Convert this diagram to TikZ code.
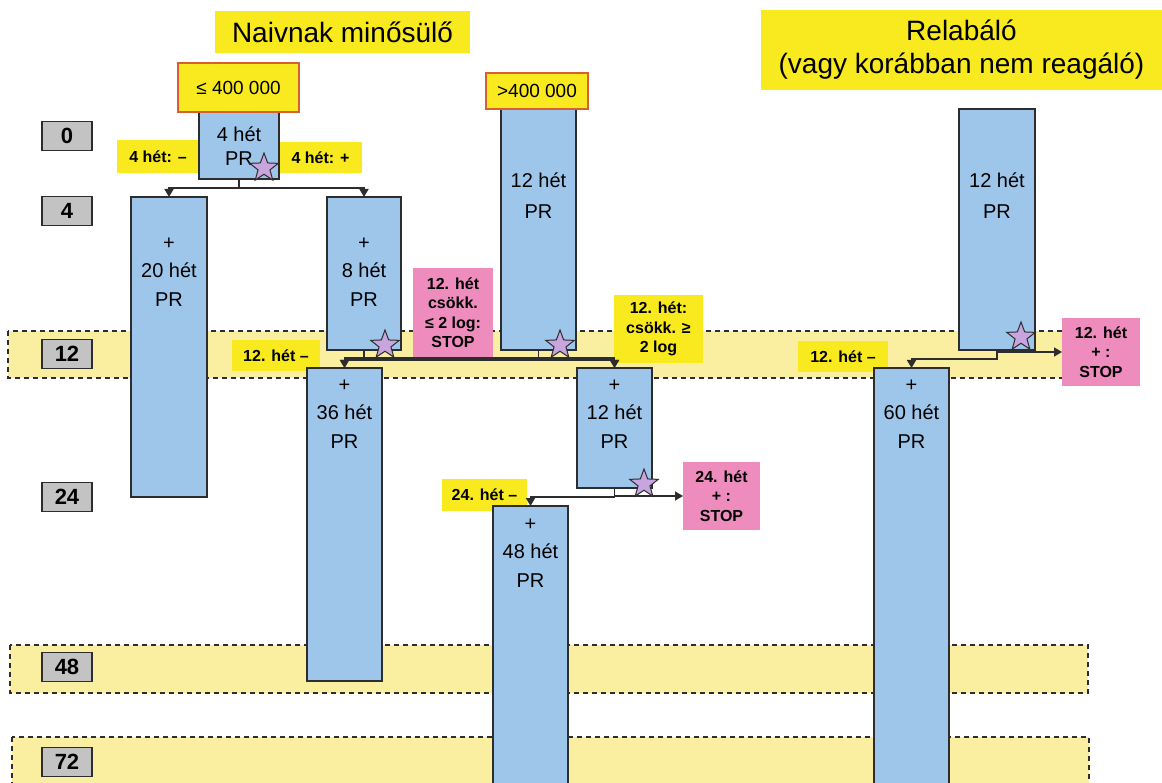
\documentclass[tikz,border=0pt]{standalone}
\usepackage{fontspec}
\setmainfont{Liberation Sans}
\usetikzlibrary{arrows.meta,shapes.geometric}

\definecolor{titleyellow}{RGB}{248,234,30}
\definecolor{bandyellow}{RGB}{250,238,160}
\definecolor{prblue}{RGB}{158,198,234}
\definecolor{stoppink}{RGB}{238,140,190}
\definecolor{starlilac}{RGB}{200,165,222}
\definecolor{weekgray}{RGB}{195,195,195}
\definecolor{limitred}{RGB}{215,95,50}
\definecolor{edgegray}{RGB}{45,45,45}

\tikzset{
    band/.style={draw=edgegray, fill=bandyellow, dash pattern=on 5pt off 4pt, line width=1.4pt},
    box/.style={inner sep=0pt, outer sep=0pt, anchor=north west},
    titlebox/.style={box, fill=titleyellow, align=center, font=\fontsize{28}{33}\selectfont},
    limitbox/.style={box, fill=titleyellow, draw=limitred, line width=1.2pt, font=\fontsize{19}{22}\selectfont},
    tagbox/.style={box, fill=titleyellow, align=center, font=\bfseries\fontsize{16}{19.5}\selectfont},
    stopbox/.style={box, fill=stoppink, align=center, font=\bfseries\fontsize{16}{19.5}\selectfont},
    prbox/.style={box, draw=edgegray, fill=prblue, line width=1.2pt},
    prtext/.style={align=center, inner sep=0pt, font=\fontsize{20}{28.5}\selectfont},
    weekbox/.style={inner sep=0pt, draw=edgegray, fill=weekgray, line width=1.2pt, minimum width=50, minimum height=29, font=\bfseries\fontsize{22}{24}\selectfont},
    starmark/.style={star, star points=5, star point ratio=2.4, minimum size=30, inner sep=0pt, fill=starlilac, draw=edgegray, line width=1pt},
    link/.style={draw=edgegray, line width=1.6pt, -{Triangle[length=8pt,width=9pt]}}
}

\begin{document}
\begin{tikzpicture}[x=1pt, y=-1pt]
    \path[use as bounding box, clip] (0,0) rectangle (1162,783);
    \fill[white] (0,0) rectangle (1162,783);

    % week bands
    \draw[band] (8,331) rectangle (1100,378);
    \draw[band] (10,645) rectangle (1088,693);
    \draw[band] (12,737) rectangle (1089,800);

    % headings
    \node[titlebox, minimum width=255, minimum height=42] (naive) at (215,11) {Naivnak minősülő};
    \node[titlebox, minimum width=401, minimum height=80] (relapse) at (761,10) {Relabáló\\(vagy korábban nem reagáló)};

    % weeks
    \node[weekbox] (wk0) at (67,136) {0};
    \node[weekbox] (wk4) at (67,211) {4};
    \node[weekbox] (wk12) at (67,354) {12};
    \node[weekbox] (wk24) at (67,497) {24};
    \node[weekbox] (wk48) at (67,667) {48};
    \node[weekbox] (wk72) at (67,762) {72};

    % yellow tags
    \node[tagbox, minimum width=82, minimum height=33] (neg4) at (117,140) {4 hét: –};
    \node[tagbox, minimum width=83, minimum height=31] (pos4) at (279,142) {4 hét: +};
    \node[tagbox, minimum width=88, minimum height=31] (neg12a) at (232,340) {12. hét –};
    \node[tagbox, minimum width=89, minimum height=68] (drop12) at (614,295) {12. hét:\\csökk. ≥\\2 log};
    \node[tagbox, minimum width=85, minimum height=32] (neg24) at (442,479) {24. hét –};
    \node[tagbox, minimum width=90, minimum height=31] (neg12b) at (798,341) {12. hét –};

    % stop tags
    \node[stopbox, minimum width=80, minimum height=89] (stop12a) at (413,268) {12. hét\\csökk.\\≤ 2 log:\\STOP};
    \node[stopbox, minimum width=77, minimum height=68] (stop24) at (683,462) {24. hét\\+ :\\STOP};
    \node[stopbox, minimum width=78, minimum height=68] (stop12b) at (1062,318) {12. hét\\+ :\\STOP};

    % PR blocks
    \node[prbox, minimum width=80, minimum height=67] (b4) at (199,112) {};
    \node[prbox, minimum width=76, minimum height=300] (b20) at (131,197) {};
    \node[prbox, minimum width=74, minimum height=153] (b8) at (327,197) {};
    \node[prbox, minimum width=75, minimum height=241] (b12) at (501,109) {};
    \node[prbox, minimum width=75, minimum height=313] (b36) at (307,368) {};
    \node[prbox, minimum width=75, minimum height=120] (b12m) at (577,368) {};
    \node[prbox, minimum width=75, minimum height=300] (b48) at (493,506) {};
    \node[prbox, minimum width=76, minimum height=241] (b12r) at (959,109) {};
    \node[prbox, minimum width=75, minimum height=430] (b60) at (874,368) {};

    \node[prtext, font=\fontsize{20}{24}\selectfont] (t4) at ([yshift=-34]b4.north) {4 hét\\PR};
    \node[prtext] (t20) at ([yshift=-75]b20.north) {+\\20 hét\\PR};
    \node[prtext] (t8) at ([yshift=-75]b8.north) {+\\8 hét\\PR};
    \node[prtext, font=\fontsize{20}{31}\selectfont] (t12) at ([yshift=-87]b12.north) {12 hét\\PR};
    \node[prtext] (t36) at ([yshift=-46]b36.north) {+\\36 hét\\PR};
    \node[prtext] (t12m) at ([yshift=-46]b12m.north) {+\\12 hét\\PR};
    \node[prtext] (t48) at ([yshift=-47]b48.north) {+\\48 hét\\PR};
    \node[prtext, font=\fontsize{20}{31}\selectfont] (t12r) at ([yshift=-87]b12r.north) {12 hét\\PR};
    \node[prtext] (t60) at ([yshift=-46]b60.north) {+\\60 hét\\PR};

    % viral load limits
    \node[limitbox, minimum width=121, minimum height=49] (low) at (178,63) {≤ 400 000};
    \node[limitbox, minimum width=102, minimum height=36] (high) at (486,73) {>400 000};

    % decisions
    \draw[link] (b4.south) -- ++(0,9) -| (b20.north);
    \draw[link] (b4.south) -- ++(0,9) -| (b8.north);
    \draw[link] (b8.south) -- ++(0,8) -| (b36.north);
    \draw[link] (b8.south) -- ++(0,8) -| (b12m.north);
    \draw[link] (b12.south) -- ++(0,10) -| (b36.north);
    \draw[link] (b12.south) -- ++(0,10) -| (b12m.north);
    \draw[link] (b12m.south) -- ++(0,9) -| (b48.north);
    \draw[link] (b12m.south) |- (stop24.west);
    \draw[link] (b12r.south) -- ++(0,9) -| (b60.north);
    \draw[link] (b12r.south) |- (stop12b.west);

    % checkpoints
    \node[starmark] (s4) at (264,168) {};
    \node[starmark] (s8) at (385,345) {};
    \node[starmark] (s12) at (560,345) {};
    \node[starmark] (s12m) at (644,484) {};
    \node[starmark] (s12r) at (1021,337) {};
\end{tikzpicture}
\end{document}
